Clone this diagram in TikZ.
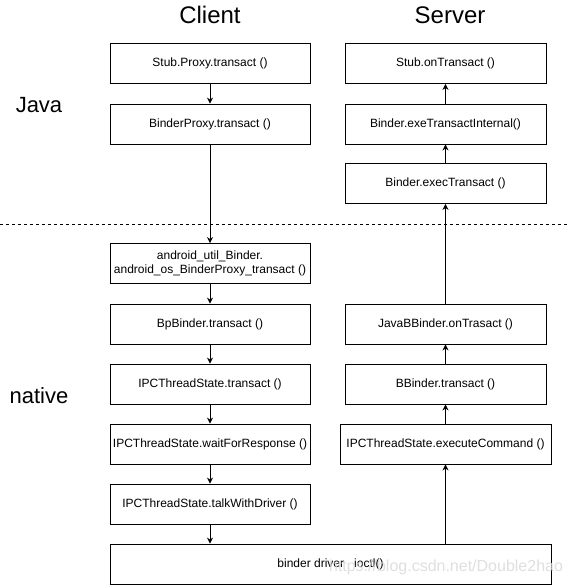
\documentclass[tikz,border=0pt]{standalone}
\usepackage{fontspec}
\setmainfont{Liberation Sans}
\usetikzlibrary{arrows.meta}
\begin{document}
\begin{tikzpicture}[x=1pt,y=-1pt,
  box/.style={draw, line width=0.9pt, minimum height=40pt, inner sep=0pt, align=center,
    font=\fontsize{12}{14}\selectfont},
  cbox/.style={box, minimum width=200pt},
  sbox/.style={box, minimum width=201pt},
  flow/.style={line width=0.9pt, -{Stealth[length=6pt,width=6pt]}},
  title/.style={font=\fontsize{24}{28}\selectfont},
  layer/.style={font=\fontsize{22}{26}\selectfont}]
\useasboundingbox (0,0) rectangle (572,585);
\node[title] (tc) at (210,15) {Client};
\node[title] (ts) at (450,15) {Server};
\node[layer] (lj) at (39,105) {Java};
\node[layer] (ln) at (39,396) {native};
\coordinate (dl) at (0,224);
\coordinate (dr) at (568,224);
\draw[dashed, line width=0.7pt, dash pattern=on 3pt off 3pt] (dl) -- (dr);
% client
\node[cbox] (c1) at (210,63.5) {Stub.Proxy.transact ()};
\node[cbox] (c2) at (210,124) {BinderProxy.transact ()};
\node[cbox] (c3) at (210,263.5) {android\_util\_Binder.\\android\_os\_BinderProxy\_transact ()};
\node[cbox] (c4) at (210,324) {BpBinder.transact ()};
\node[cbox] (c5) at (210,384) {IPCThreadState.transact ()};
\node[cbox] (c6) at (210,444) {IPCThreadState.waitForResponse ()};
\node[cbox] (c7) at (210,504) {IPCThreadState.talkWithDriver ()};
\node[box, minimum width=441pt] (drv) at (330.5,564) {binder driver \ \ ioctl()};
% server
\node[sbox] (s1) at (445.5,63.5) {Stub.onTransact ()};
\node[sbox] (s2) at (445.5,124) {Binder.exeTransactInternal()};
\node[sbox] (s3) at (445.5,183.5) {Binder.execTransact ()};
\node[sbox] (s4) at (445.5,324) {JavaBBinder.onTrasact ()};
\node[sbox] (s5) at (445.5,384) {BBinder.transact ()};
\node[box, minimum width=211pt] (s6) at (445.5,444) {IPCThreadState.executeCommand ()};
% arrows
\draw[flow] (c1) -- (c2);
\draw[flow] (c2) -- (c3);
\draw[flow] (c3) -- (c4);
\draw[flow] (c4) -- (c5);
\draw[flow] (c5) -- (c6);
\draw[flow] (c6) -- (c7);
\draw[flow] (c7) -- (c7 |- drv.north);
\draw[flow] (drv.north -| s6) -- (s6);
\draw[flow] (s6) -- (s5);
\draw[flow] (s5) -- (s4);
\draw[flow] (s4) -- (s3);
\draw[flow] (s3) -- (s2);
\draw[flow] (s2) -- (s1);
% watermark
\node[text=gray!30, opacity=0.85, font=\fontsize{16}{18}\selectfont] (wm) at (446,567) {https://blog.csdn.net/Double2hao};
\end{tikzpicture}
\end{document}
